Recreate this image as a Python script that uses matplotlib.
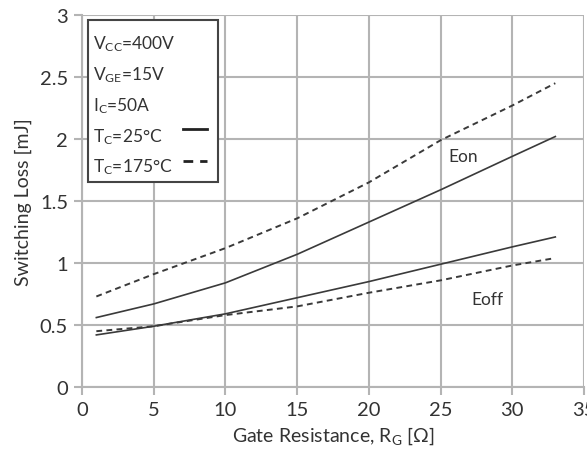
import matplotlib
matplotlib.use("Agg")
import matplotlib.pyplot as plt
from matplotlib.lines import Line2D
from matplotlib.patches import Rectangle

plt.rcParams['font.family'] = ['Lato', 'DejaVu Sans']
plt.rcParams['mathtext.fontset'] = 'custom'
plt.rcParams['mathtext.rm'] = 'Lato'
plt.rcParams['mathtext.it'] = 'Lato'

rg = [1, 5, 10, 15, 20, 25, 30, 33]
eon_25 = [0.56, 0.67, 0.84, 1.07, 1.33, 1.59, 1.86, 2.02]
eon_175 = [0.73, 0.91, 1.12, 1.36, 1.65, 1.99, 2.27, 2.45]
eoff_25 = [0.42, 0.49, 0.59, 0.72, 0.85, 0.99, 1.13, 1.21]
eoff_175 = [0.45, 0.49, 0.58, 0.65, 0.76, 0.86, 0.98, 1.04]

xticks = [0, 5, 10, 15, 20, 25, 30, 35]
yticks = [0, 0.5, 1, 1.5, 2, 2.5, 3]
ytick_labels = ['0', '0.5', '1', '1.5', '2', '2.5', '3']

grid_c = '#b4b4b4'
line_c = '#3a3a3a'
text_c = '#333333'

fig = plt.figure(figsize=(5.87, 4.64), dpi=100)
ax = fig.add_axes([82/587, 1-388/464, (584-82)/587, (388-16)/464])

ax.plot(rg, eon_25, color=line_c, lw=1.2, ls='-')
ax.plot(rg, eon_175, color=line_c, lw=1.4, ls=(0, (3, 2.2)))
ax.plot(rg, eoff_25, color=line_c, lw=1.2, ls='-')
ax.plot(rg, eoff_175, color=line_c, lw=1.4, ls=(0, (3, 2.2)))

ax.set_xlim(0, 35)
ax.set_ylim(0, 3)
ax.set_xticks(xticks)
ax.set_yticks(yticks)
ax.set_yticklabels(ytick_labels)
ax.grid(True, color=grid_c, lw=1.5)
ax.set_axisbelow(True)
for s in ['top', 'right']:
    ax.spines[s].set_visible(False)
for s in ['left', 'bottom']:
    ax.spines[s].set_color(grid_c)
    ax.spines[s].set_linewidth(1.5)
ax.tick_params(axis='both', colors=grid_c, length=6, width=1.5, labelsize=14.5,
               labelcolor=text_c, pad=4)

ax.set_xlabel('Gate Resistance, R$_\\mathregular{G}$ [Ω]', fontsize=14, color=text_c, labelpad=5)
ax.set_ylabel('Switching Loss [mJ]', fontsize=14, color=text_c, labelpad=6)

ax.text(26.6, 1.86, 'Eon', fontsize=12.5, color=text_c, ha='center', va='center')
ax.text(28.3, 0.71, 'Eoff', fontsize=12.5, color=text_c, ha='center', va='center')

# parameter box
def fx(px):
    return px / 587
def fy(py):
    return 1 - py / 464
box = Rectangle((fx(88), fy(183)), fx(218) - fx(88), fy(21) - fy(183),
                transform=fig.transFigure, facecolor='white', edgecolor='#444444', lw=1.5, zorder=5)
fig.add_artist(box)
lines_txt = ['V$_\\mathregular{CC}$=400V', 'V$_\\mathregular{GE}$=15V', 'I$_\\mathregular{C}$=50A',
             'T$_\\mathregular{C}$=25°C', 'T$_\\mathregular{C}$=175°C']
ys = [44, 75, 106, 137, 167]
for t, y in zip(lines_txt, ys):
    fig.text(fx(93), fy(y), t, fontsize=12.5, color=text_c, va='center', ha='left', zorder=6)
fig.add_artist(Line2D([fx(183), fx(207)], [fy(130), fy(130)], transform=fig.transFigure,
                      color='#222222', lw=2, zorder=6))
fig.add_artist(Line2D([fx(183), fx(207)], [fy(162), fy(162)], transform=fig.transFigure,
                      color='#222222', lw=2, ls=(0, (3.5, 2.5)), zorder=6))

fig.savefig('out.png', dpi=100)
